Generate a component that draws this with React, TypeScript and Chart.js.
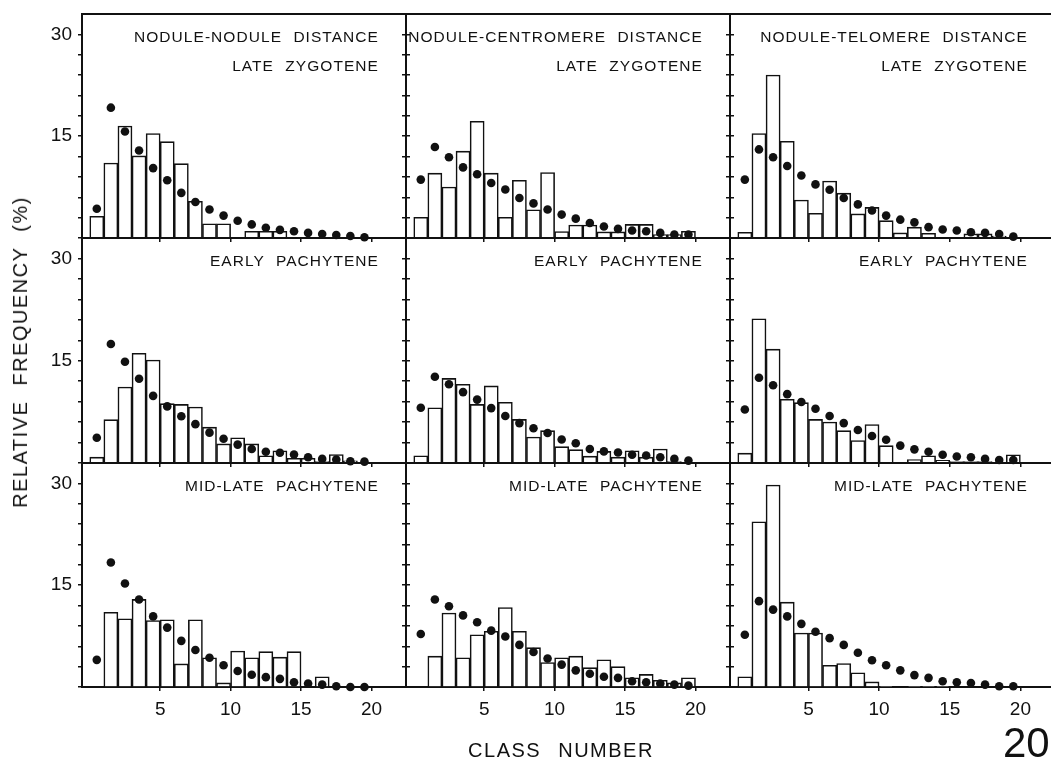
import React, { useEffect, useRef } from 'react';
import { Chart, registerables } from 'chart.js';

Chart.register(...registerables);

// ---------- data ----------
const classNumbers = [1, 2, 3, 4, 5, 6, 7, 8, 9, 10, 11, 12, 13, 14, 15, 16, 17, 18, 19, 20];
const xTickValues = [5, 10, 15, 20];
const yTickValues = [0, 3, 6, 9, 12, 15, 18, 21, 24, 27, 30];
const yLabelValues = [15, 30];

const columnTitles = ['NODULE-NODULE DISTANCE', 'NODULE-CENTROMERE DISTANCE', 'NODULE-TELOMERE DISTANCE'];
const stageTitles = ['LATE ZYGOTENE', 'EARLY PACHYTENE', 'MID-LATE PACHYTENE'];

// Late zygotene
const nnLateZyg = [3.2, 11.05, 16.5, 12.1, 15.4, 14.2, 10.95, 5.4, 2.1, 2.1, 0, 1.0, 1.0, 1.0, 0, 0, 0, 0, 0, 0];
const nnLateZygDots = [4.3, 19.2, 15.7, 12.9, 10.3, 8.5, 6.65, 5.3, 4.2, 3.3, 2.55, 2.0, 1.5, 1.2, 1.0, 0.75, 0.6, 0.45, 0.3, 0.1];
const ncLateZyg = [3.05, 9.55, 7.5, 12.8, 17.2, 9.55, 3.05, 8.5, 4.15, 9.65, 0.95, 1.9, 1.9, 0.9, 0.9, 2.0, 2.0, 0.5, 0.5, 1.0];
const ncLateZygDots = [8.6, 13.4, 11.9, 10.4, 9.4, 8.1, 7.15, 5.9, 5.1, 4.2, 3.45, 2.85, 2.2, 1.7, 1.35, 1.1, 1.0, 0.75, 0.5, 0.5];
const ntLateZyg = [0.85, 15.4, 24.0, 14.25, 5.6, 3.65, 8.4, 6.6, 3.55, 4.5, 2.55, 0.75, 1.6, 0.7, 0, 0, 0.6, 0.6, 0.3, 0];
const ntLateZygDots = [8.6, 13.05, 11.9, 10.6, 9.2, 7.9, 7.1, 5.9, 4.95, 4.05, 3.3, 2.7, 2.3, 1.6, 1.25, 1.1, 0.85, 0.75, 0.6, 0.2];

// Early pachytene
const nnEarlyPach = [0.85, 6.35, 11.15, 16.1, 15.1, 8.7, 8.6, 8.2, 5.25, 2.8, 3.7, 2.8, 1.05, 1.8, 0.7, 0.7, 0.2, 1.25, 0.3, 0];
const nnEarlyPachDots = [3.7, 17.45, 14.85, 12.35, 9.85, 8.3, 6.85, 5.7, 4.45, 3.55, 2.7, 2.05, 1.65, 1.5, 1.25, 0.85, 0.6, 0.5, 0.25, 0.2];
const ncEarlyPach = [1.05, 8.1, 12.4, 11.55, 8.6, 11.3, 8.9, 6.4, 3.8, 4.75, 2.4, 1.95, 1.0, 1.7, 0.85, 1.8, 0.85, 2.05, 0.2, 0];
const ncEarlyPachDots = [8.1, 12.65, 11.55, 10.4, 9.3, 8.05, 6.9, 5.85, 5.1, 4.4, 3.45, 2.9, 2.05, 1.7, 1.55, 1.2, 1.1, 0.85, 0.6, 0.35];
const ntEarlyPach = [1.45, 21.15, 16.7, 9.35, 8.85, 6.4, 6.0, 4.75, 3.3, 5.65, 2.55, 0, 0.5, 1.05, 0.4, 0.2, 0.2, 0.2, 0, 1.2];
const ntEarlyPachDots = [7.85, 12.5, 11.4, 10.1, 8.95, 7.95, 6.9, 5.85, 4.85, 3.95, 3.4, 2.55, 2.0, 1.65, 1.2, 0.95, 0.85, 0.6, 0.45, 0.45];

// Mid-late pachytene
const nnMidLate = [0, 11.0, 10.05, 12.9, 9.8, 9.9, 3.4, 9.9, 4.3, 0.6, 5.3, 4.3, 5.2, 4.4, 5.2, 0, 1.5, 0, 0, 0];
const nnMidLateDots = [4.0, 18.35, 15.25, 12.9, 10.4, 8.75, 6.8, 5.45, 4.3, 3.2, 2.35, 1.8, 1.45, 1.2, 0.7, 0.5, 0.35, 0.1, 0, 0];
const ncMidLate = [0, 4.55, 10.9, 4.3, 7.7, 8.2, 11.7, 8.2, 5.8, 3.6, 4.3, 4.55, 2.85, 4.0, 3.0, 1.35, 1.85, 1.0, 0.6, 1.35];
const ncMidLateDots = [7.8, 12.9, 11.9, 10.55, 9.55, 8.3, 7.45, 6.2, 5.15, 4.2, 3.3, 2.45, 1.95, 1.5, 1.35, 0.85, 0.7, 0.5, 0.35, 0.2];
const ntMidLate = [1.5, 24.35, 29.75, 12.5, 7.95, 7.95, 3.2, 3.45, 2.1, 0.75, 0.1, 0, 0.1, 0.1, 0.1, 0, 0, 0, 0, 0];
const ntMidLateDots = [7.7, 12.65, 11.4, 10.4, 9.3, 8.15, 7.2, 6.2, 5.05, 3.95, 3.2, 2.45, 1.75, 1.35, 0.85, 0.7, 0.6, 0.35, 0.1, 0.1];

const barSeries = [
  [nnLateZyg, ncLateZyg, ntLateZyg],
  [nnEarlyPach, ncEarlyPach, ntEarlyPach],
  [nnMidLate, ncMidLate, ntMidLate],
];
const dotSeries = [
  [nnLateZygDots, ncLateZygDots, ntLateZygDots],
  [nnEarlyPachDots, ncEarlyPachDots, ntEarlyPachDots],
  [nnMidLateDots, ncMidLateDots, ntMidLateDots],
];

// ---------- layout ----------
const COL_EDGES = [82, 406, 730, 1055];
const ROW_EDGES = [14, 238, 463, 687];
const X_MIN = -0.55;
const X_MAX = 22.45;
const Y_MIN = 0;
const Y_MAX = 33;
const INK = '#111';
const FONT = "'Liberation Sans', Arial, Helvetica, sans-serif";

const noPad = (s: any) => {
  s.paddingTop = 0;
  s.paddingBottom = 0;
  s.paddingLeft = 0;
  s.paddingRight = 0;
};

function Panel({ r, c }: { r: number; c: number }) {
  const ref = useRef<HTMLCanvasElement>(null);
  const L = COL_EDGES[c];
  const R = COL_EDGES[c + 1];
  const T = ROW_EDGES[r];
  const B = ROW_EDGES[r + 1];
  const padL = c === 0 ? 82 : 8;
  const padR = 8;
  const padT = 8;
  const padB = r === 2 ? 44 : 8;
  const w = R - L + padL + padR;
  const h = B - T + padT + padB;

  useEffect(() => {
    if (!ref.current) return;
    const bars = barSeries[r][c];
    const dots = dotSeries[r][c];
    const chart = new Chart(ref.current, {
      type: 'bar',
      data: {
        datasets: [
          {
            type: 'scatter',
            data: classNumbers.map((k, i) => ({ x: k - 0.5, y: dots[i] })),
            backgroundColor: INK,
            borderColor: INK,
            borderWidth: 0,
            pointRadius: 4.3,
            pointHoverRadius: 4.3,
            order: 0,
            clip: false,
            xAxisID: 'x',
            yAxisID: 'y',
          } as any,
          {
            type: 'bar',
            data: classNumbers.map((k, i) => ({ x: k - 0.5, y: bars[i] })),
            backgroundColor: '#fff',
            borderColor: INK,
            borderWidth: 1.6,
            barPercentage: 1,
            categoryPercentage: 1,
            order: 1,
            xAxisID: 'x',
            yAxisID: 'y',
          } as any,
        ],
      },
      options: {
        animation: false,
        responsive: false,
        devicePixelRatio: 1,
        events: [],
        layout: { padding: 0 },
        plugins: {
          legend: { display: false },
          tooltip: { enabled: false },
          title: { display: false },
        },
        scales: {
          x: {
            type: 'linear',
            position: 'bottom',
            min: X_MIN,
            max: X_MAX,
            offset: false,
            afterBuildTicks: (s: any) => {
              s.ticks = xTickValues.map((v) => ({ value: v }));
            },
            afterFit: (s: any) => {
              s.height = padB;
              noPad(s);
            },
            ticks: {
              display: r === 2,
              autoSkip: false,
              maxRotation: 0,
              padding: 7,
              color: INK,
              font: { family: FONT, size: 19 },
              callback: (v: any) => String(v),
            },
            grid: { drawOnChartArea: false, drawTicks: true, tickLength: 4, color: INK, lineWidth: 1.5, offset: false },
            border: { display: true, color: INK, width: 2 },
          },
          xTop: {
            type: 'linear',
            position: 'top',
            min: X_MIN,
            max: X_MAX,
            offset: false,
            afterFit: (s: any) => {
              s.height = padT;
              noPad(s);
            },
            ticks: { display: false },
            grid: { display: false },
            border: { display: true, color: INK, width: 2 },
          },
          y: {
            type: 'linear',
            position: 'left',
            min: Y_MIN,
            max: Y_MAX,
            afterBuildTicks: (s: any) => {
              s.ticks = yTickValues.map((v) => ({ value: v }));
            },
            afterFit: (s: any) => {
              s.width = padL;
              noPad(s);
            },
            ticks: {
              display: c === 0,
              autoSkip: false,
              padding: 6,
              color: INK,
              font: { family: FONT, size: 19 },
              callback: (v: any) => (yLabelValues.includes(Number(v)) ? String(v) : ''),
            },
            grid: { drawOnChartArea: false, drawTicks: true, tickLength: 4, color: INK, lineWidth: 1.5 },
            border: { display: true, color: INK, width: 2 },
          },
          yRight: {
            type: 'linear',
            position: 'right',
            min: Y_MIN,
            max: Y_MAX,
            afterBuildTicks: (s: any) => {
              s.ticks = yTickValues.map((v) => ({ value: v }));
            },
            afterFit: (s: any) => {
              s.width = padR;
              noPad(s);
            },
            ticks: { display: false, autoSkip: false },
            grid: { drawOnChartArea: false, drawTicks: true, tickLength: 4, color: INK, lineWidth: 1.5 },
            border: { display: true, color: INK, width: 2 },
          },
        },
      } as any,
    });
    return () => chart.destroy();
  }, [r, c]);

  return (
    <canvas
      ref={ref}
      width={w}
      height={h}
      style={{ position: 'absolute', left: L - padL, top: T - padT, width: w, height: h }}
    />
  );
}

const titleStyle: React.CSSProperties = {
  position: 'absolute',
  textAlign: 'right',
  fontFamily: FONT,
  fontSize: 15.5,
  lineHeight: '18px',
  letterSpacing: '1.05px',
  wordSpacing: '6px',
  color: INK,
  whiteSpace: 'nowrap',
};

export default function App() {
  const panels: React.ReactNode[] = [];
  const labels: React.ReactNode[] = [];
  for (let r = 0; r < 3; r++) {
    for (let c = 0; c < 3; c++) {
      panels.push(<Panel key={`p${r}${c}`} r={r} c={c} />);
      const L = COL_EDGES[c];
      const R = COL_EDGES[c + 1];
      const T = ROW_EDGES[r];
      if (r === 0) {
        labels.push(
          <div key={`t${c}a`} style={{ ...titleStyle, left: L, width: R - L - 27, top: T + 23 - 9 }}>
            {columnTitles[c]}
          </div>
        );
        labels.push(
          <div key={`t${c}b`} style={{ ...titleStyle, left: L, width: R - L - 27, top: T + 52 - 9 }}>
            {stageTitles[0]}
          </div>
        );
      } else {
        labels.push(
          <div key={`t${r}${c}`} style={{ ...titleStyle, left: L, width: R - L - 27, top: T + 23 - 9 }}>
            {stageTitles[r]}
          </div>
        );
      }
    }
  }

  return (
    <div
      style={{
        position: 'fixed',
        left: 0,
        top: 0,
        width: 1051,
        height: 761,
        overflow: 'hidden',
        background: '#fff',
      }}
    >
      {panels}
      {labels}
      <div
        style={{
          position: 'absolute',
          left: 19.5,
          top: 352,
          transform: 'translate(-50%, -50%) rotate(-90deg)',
          fontFamily: FONT,
          fontSize: 20,
          lineHeight: '24px',
          letterSpacing: '1.5px',
          wordSpacing: '8px',
          whiteSpace: 'nowrap',
          color: INK,
        }}
      >
        RELATIVE FREQUENCY (%)
      </div>
      <div
        style={{
          position: 'absolute',
          left: 561,
          top: 750,
          transform: 'translate(-50%, -50%)',
          fontFamily: FONT,
          fontSize: 20,
          lineHeight: '24px',
          letterSpacing: '1.5px',
          wordSpacing: '10px',
          whiteSpace: 'nowrap',
          color: INK,
        }}
      >
        CLASS NUMBER
      </div>
      <div
        style={{
          position: 'absolute',
          left: 1003,
          top: 722,
          fontFamily: FONT,
          fontSize: 42,
          lineHeight: '42px',
          whiteSpace: 'nowrap',
          color: INK,
        }}
      >
        20
      </div>
    </div>
  );
}
